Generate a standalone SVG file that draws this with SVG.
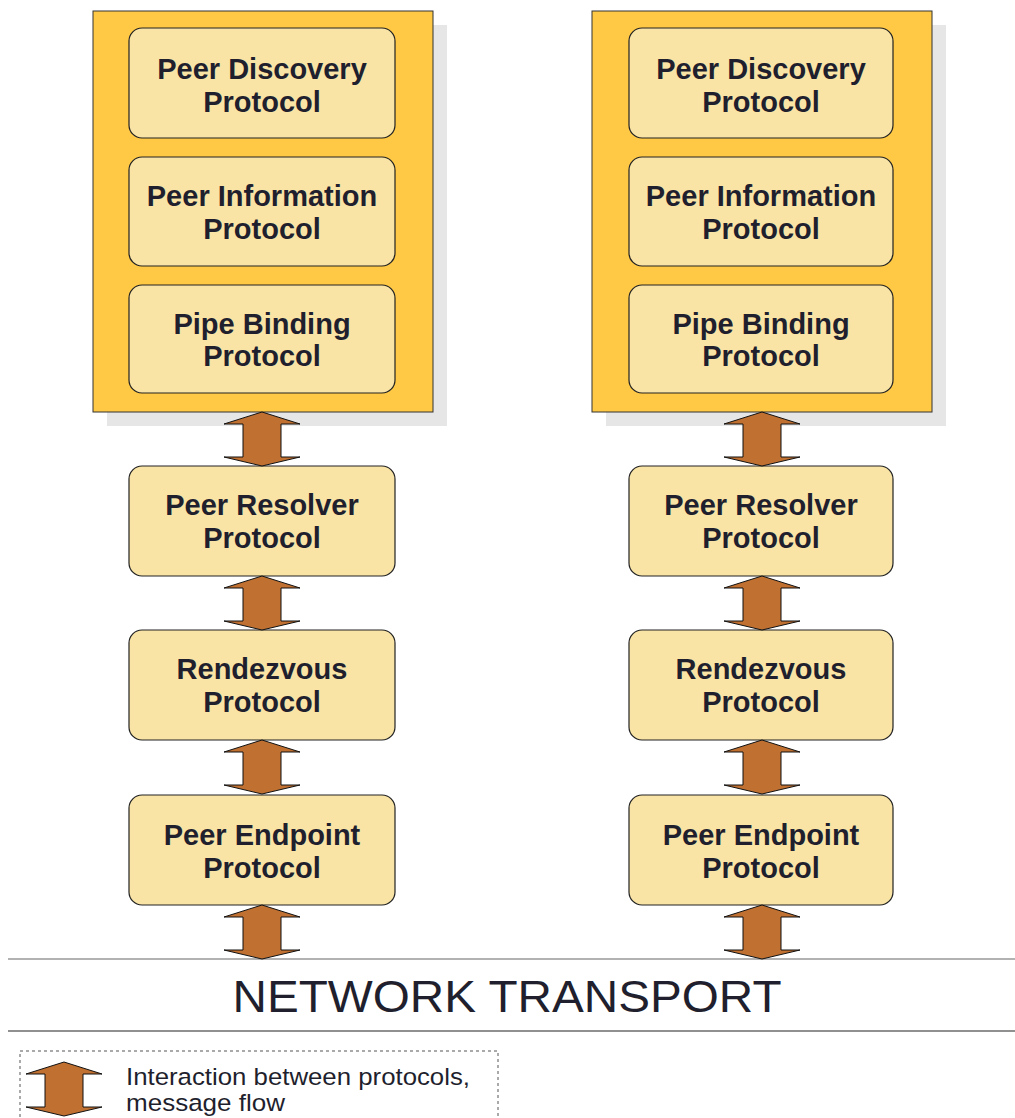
<svg xmlns="http://www.w3.org/2000/svg" width="1015" height="1118" viewBox="0 0 1015 1118">
<style>
.shadow{fill:#e6e6e6}
.outer{fill:#ffc845;stroke:#333;stroke-width:1}
.box{fill:#f9e4a6;stroke:#222;stroke-width:1.2}
.lbl{font-family:"Liberation Sans",Arial,sans-serif;font-weight:bold;font-size:29px;fill:#1f1f2e;text-anchor:middle}
.arrow{fill:#c07030;stroke:#111;stroke-width:1}
.rule{stroke:#444;stroke-width:1.2}
</style>
<defs>
<path id="arr" d="M0,0 L38,12 L19,12 L19,45 L38,45 L0,54 L-38,45 L-19,45 L-19,12 L-38,12 Z"/>
</defs>
<rect width="1015" height="1118" fill="#fff"/>
<g id="stack-left">
<rect class="shadow" x="107" y="25" width="340" height="401"/>
<rect class="outer" x="93" y="11" width="340" height="401"/>
</g>
<g id="stack-right">
<rect class="shadow" x="606" y="25" width="340" height="401"/>
<rect class="outer" x="592" y="11" width="340" height="401"/>
</g>
<g id="l-discovery"><rect class="box" x="129" y="28" width="266" height="110" rx="13"/><text class="lbl" x="262" y="79">Peer Discovery</text><text class="lbl" x="262" y="112">Protocol</text></g>
<g id="l-information"><rect class="box" x="129" y="157" width="266" height="109" rx="13"/><text class="lbl" x="262" y="206">Peer Information</text><text class="lbl" x="262" y="239">Protocol</text></g>
<g id="l-pipe"><rect class="box" x="129" y="285" width="266" height="108" rx="13"/><text class="lbl" x="262" y="334">Pipe Binding</text><text class="lbl" x="262" y="366">Protocol</text></g>
<g id="l-resolver"><rect class="box" x="129" y="466" width="266" height="110" rx="13"/><text class="lbl" x="262" y="515">Peer Resolver</text><text class="lbl" x="262" y="548">Protocol</text></g>
<g id="l-rendezvous"><rect class="box" x="129" y="630" width="266" height="110" rx="13"/><text class="lbl" x="262" y="679">Rendezvous</text><text class="lbl" x="262" y="712">Protocol</text></g>
<g id="l-endpoint"><rect class="box" x="129" y="795" width="266" height="110" rx="13"/><text class="lbl" x="262" y="845">Peer Endpoint</text><text class="lbl" x="262" y="878">Protocol</text></g>
<g id="r-discovery"><rect class="box" x="629" y="28" width="264" height="110" rx="13"/><text class="lbl" x="761" y="79">Peer Discovery</text><text class="lbl" x="761" y="112">Protocol</text></g>
<g id="r-information"><rect class="box" x="629" y="157" width="264" height="109" rx="13"/><text class="lbl" x="761" y="206">Peer Information</text><text class="lbl" x="761" y="239">Protocol</text></g>
<g id="r-pipe"><rect class="box" x="629" y="285" width="264" height="108" rx="13"/><text class="lbl" x="761" y="334">Pipe Binding</text><text class="lbl" x="761" y="366">Protocol</text></g>
<g id="r-resolver"><rect class="box" x="629" y="466" width="264" height="110" rx="13"/><text class="lbl" x="761" y="515">Peer Resolver</text><text class="lbl" x="761" y="548">Protocol</text></g>
<g id="r-rendezvous"><rect class="box" x="629" y="630" width="264" height="110" rx="13"/><text class="lbl" x="761" y="679">Rendezvous</text><text class="lbl" x="761" y="712">Protocol</text></g>
<g id="r-endpoint"><rect class="box" x="629" y="795" width="264" height="110" rx="13"/><text class="lbl" x="761" y="845">Peer Endpoint</text><text class="lbl" x="761" y="878">Protocol</text></g>
<g id="transport">
<line x1="8" y1="959" x2="1015" y2="959" stroke="#666" stroke-width="1.2"/>
<line x1="8" y1="1031" x2="1015" y2="1031" stroke="#222" stroke-width="1.2"/>
<text x="507" y="1012" font-family="'Liberation Sans',Arial,sans-serif" font-size="44" fill="#1f1f2e" text-anchor="middle" textLength="549" lengthAdjust="spacingAndGlyphs">NETWORK TRANSPORT</text>
</g>
<g id="connectors">
<use href="#arr" class="arrow" x="262" y="412"/>
<use href="#arr" class="arrow" x="262" y="576"/>
<use href="#arr" class="arrow" x="262" y="740"/>
<use href="#arr" class="arrow" x="262" y="905"/>
<use href="#arr" class="arrow" x="762" y="412"/>
<use href="#arr" class="arrow" x="762" y="576"/>
<use href="#arr" class="arrow" x="762" y="740"/>
<use href="#arr" class="arrow" x="762" y="905"/>
</g>
<g id="legend">
<rect x="20" y="1051" width="478" height="80" fill="none" stroke="#555" stroke-width="1" stroke-dasharray="3,3"/>
<use href="#arr" class="arrow" x="64" y="1062"/>
<text x="126" y="1085" font-family="'Liberation Sans',Arial,sans-serif" font-size="24.5" fill="#1f1f2e" textLength="344" lengthAdjust="spacingAndGlyphs">Interaction between protocols,</text>
<text x="126" y="1111" font-family="'Liberation Sans',Arial,sans-serif" font-size="24.5" fill="#1f1f2e" textLength="159" lengthAdjust="spacingAndGlyphs">message flow</text>
</g>
</svg>
